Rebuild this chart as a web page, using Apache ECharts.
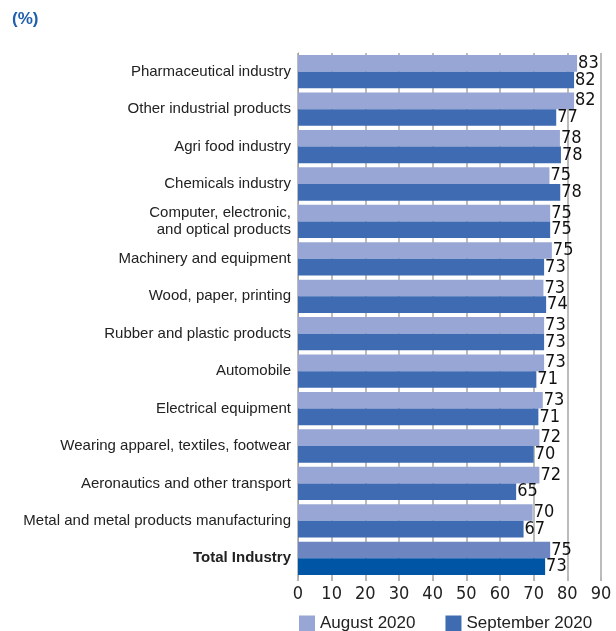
<!DOCTYPE html>
<html><head><meta charset="utf-8">
<script src="https://cdn.jsdelivr.net/npm/echarts@6/dist/echarts.min.js"></script>
<style>html,body{margin:0;padding:0;background:#fff}#c{width:616px;height:631px}</style>
</head><body><div id="c"></div>
<script>
const categories = ["Pharmaceutical industry","Other industrial products","Agri food industry","Chemicals industry","Computer, electronic,\nand optical products","Machinery and equipment","Wood, paper, printing","Rubber and plastic products","Automobile","Electrical equipment","Wearing apparel, textiles, footwear","Aeronautics and other transport","Metal and metal products manufacturing","Total Industry"];
const august2020 = [82.9, 82.0, 77.8, 74.7, 74.9, 75.4, 72.9, 73.1, 73.1, 72.7, 71.7, 71.7, 69.7, 74.9];
const september2020 = [82.0, 76.7, 78.1, 77.9, 74.9, 73.1, 73.7, 73.1, 70.8, 71.4, 70.0, 64.8, 67.0, 73.4];
const xTicks = [0,10,20,30,40,50,60,70,80,90];

const numFont = "'Liberation Sans Narrow','Arial Narrow','DejaVu Sans Condensed',sans-serif";
const txtFont = "'Liberation Sans', Arial, sans-serif";
const lastIdx = categories.length - 1;
const mk = (arr, total) => arr.map((v, i) => i === lastIdx ? {value: v, itemStyle: {color: total}} : v);

const chart = echarts.init(document.getElementById('c'), null, {renderer: 'canvas'});
chart.setOption({
  animation: false,
  graphic: [{type: 'text', left: 12, top: 11, style: {text: '(%)', fill: '#1F5FAD', font: "bold 17px 'Liberation Sans', Arial, sans-serif"}}],
  legend: {
    bottom: -6, left: 294, itemWidth: 16, itemHeight: 16, itemGap: 30, icon: 'rect',
    textStyle: {fontSize: 17, color: '#222', fontFamily: txtFont},
    data: ['August 2020', 'September 2020']
  },
  grid: {left: 298, right: 15, top: 53, bottom: 54, containLabel: false},
  xAxis: {
    type: 'value', min: 0, max: 90, interval: 10,
    axisLine: {show: false},
    axisTick: {show: true, length: 4, lineStyle: {color: '#A0A0A0', width: 1.5}},
    splitLine: {show: true, lineStyle: {color: '#A6A6A6', width: 1.5}},
    axisLabel: {fontSize: 18, color: '#222', fontFamily: numFont, margin: 8,
      formatter: v => xTicks.includes(v) ? String(v) : ''}
  },
  yAxis: {
    type: 'category', inverse: true, data: categories,
    axisLine: {show: true, lineStyle: {color: '#A0A0A0', width: 1}},
    axisTick: {show: false},
    axisLabel: {
      fontSize: 15, color: '#222', fontFamily: txtFont, margin: 7, lineHeight: 17,
      formatter: (v, i) => i === lastIdx ? '{b|' + v + '}' : v,
      rich: {b: {fontWeight: 'bold', fontSize: 15, fontFamily: txtFont, color: '#222'}}
    }
  },
  series: [
    {name: 'August 2020', type: 'bar', data: mk(august2020, '#6D85C1'),
     itemStyle: {color: '#97A6D4'}, barGap: '0%', barCategoryGap: '11%',
     label: {show: true, position: 'right', distance: 1, color: '#111', fontSize: 18, fontFamily: numFont,
       formatter: p => Math.round(p.value)}},
    {name: 'September 2020', type: 'bar', data: mk(september2020, '#0055A4'),
     itemStyle: {color: '#3F6BB3'}, barGap: '0%', barCategoryGap: '11%',
     label: {show: true, position: 'right', distance: 1, color: '#111', fontSize: 18, fontFamily: numFont,
       formatter: p => Math.round(p.value)}}
  ]
});
</script></body></html>
